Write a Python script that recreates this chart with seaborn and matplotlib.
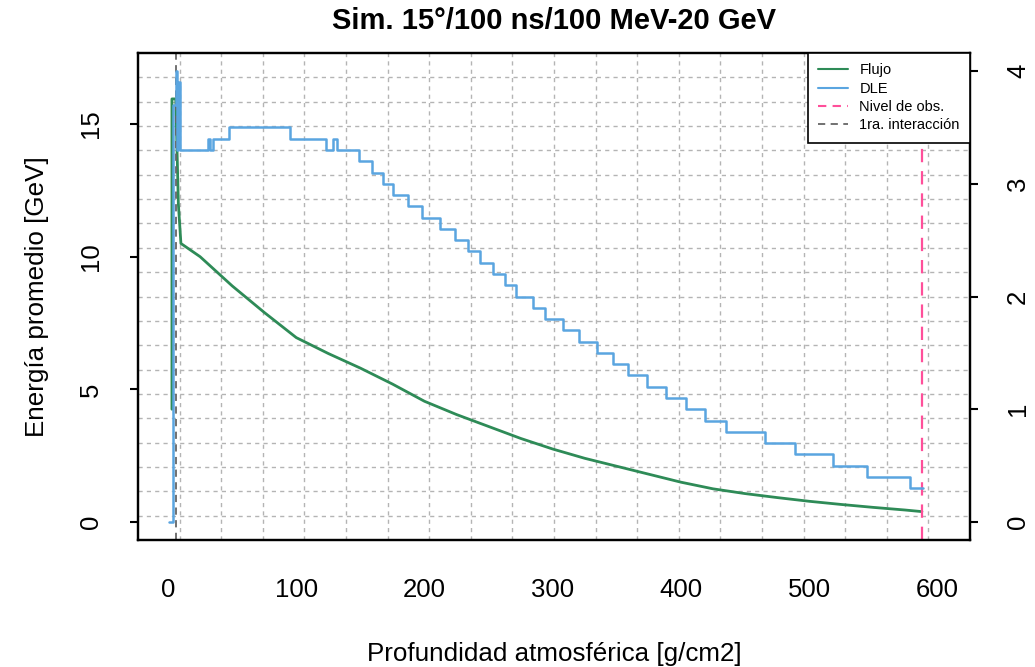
import numpy as np
import pandas as pd
import matplotlib
matplotlib.use("Agg")
import matplotlib.pyplot as plt
from matplotlib.lines import Line2D
import seaborn as sns

sns.set_style("white")
plt.rcParams["font.family"] = ["Liberation Sans", "DejaVu Sans"]
plt.rcParams["text.color"] = "black"
plt.rcParams["axes.labelcolor"] = "black"
plt.rcParams["xtick.color"] = "black"
plt.rcParams["ytick.color"] = "black"

# Flujo (average energy, left axis, GeV)
flujo_x = [3, 3, 6, 8, 10, 25, 50, 75, 100, 125, 150, 175, 200, 225, 250, 275, 300,
           325, 350, 375, 400, 425, 450, 475, 500, 525, 550, 575, 588]
flujo_y = [4.25, 15.95, 15.95, 12.0, 10.5, 10.0, 8.9, 7.9, 6.95, 6.35, 5.8, 5.2, 4.55,
           4.05, 3.6, 3.15, 2.75, 2.4, 2.1, 1.8, 1.5, 1.25, 1.07, 0.92, 0.78, 0.66,
           0.55, 0.45, 0.39]

# DLE (step series, right axis)
dle_x = [1, 4, 6, 7, 8, 9.5, 31, 33, 35, 47.6, 95, 123, 129, 132, 149, 158.7, 168,
         175.7, 187.5, 197.9, 212, 223.9, 234.3, 243.4, 253.8, 262.8, 271.5, 285, 294,
         307.8, 320.8, 334.8, 347.3, 359, 373.3, 388.5, 404, 419, 435, 465.7, 489, 519,
         545.5, 578.8, 589]
dle_y = [0.0, 3.7, 4.0, 3.3, 3.9, 3.3, 3.4, 3.3, 3.4, 3.5, 3.4, 3.3, 3.4, 3.3, 3.2,
         3.1, 3.0, 2.9, 2.8, 2.7, 2.6, 2.5, 2.4, 2.3, 2.2, 2.1, 2.0, 1.9, 1.8, 1.7, 1.6,
         1.5, 1.4, 1.3, 1.2, 1.1, 1.0, 0.9, 0.8, 0.7, 0.6, 0.5, 0.4, 0.3, 0.3]

primera_interaccion = 6.2
nivel_obs = 588

green = "#2e8b57"
blue = "#5aa5e0"
pink = "#ff4f9a"
grey = "#666666"

df_flujo = pd.DataFrame({"x": flujo_x, "y": flujo_y})
df_dle = pd.DataFrame({"x": dle_x, "y": dle_y})

fig = plt.figure(figsize=(10.35, 6.67), dpi=100)
ax = fig.add_axes([0.1333, 0.1904, 0.8039, 0.7301])
ax2 = ax.twinx()

xlim = (-23.5, 625.5)
ylim = (-0.68, 17.68)
ax.set_xlim(*xlim)
ax.set_ylim(*ylim)
ax2.set_ylim(-0.16, 4.16)

# R-style 20x20 dotted grid
for gx in np.linspace(xlim[0], xlim[1], 21)[1:-1]:
    ax.axvline(gx, color="#b4b4b4", lw=1.0, ls=(0, (3, 3)), zorder=0)
for gy in np.linspace(ylim[0], ylim[1], 21)[1:-1]:
    ax.axhline(gy, color="#b4b4b4", lw=1.0, ls=(0, (3, 3)), zorder=0)

sns.lineplot(data=df_flujo, x="x", y="y", ax=ax, color=green, lw=2.0,
             estimator=None, sort=False)
sns.lineplot(data=df_dle, x="x", y="y", ax=ax2, color=blue, lw=1.8,
             estimator=None, sort=False, drawstyle="steps-post")
ax.axvline(primera_interaccion, color=grey, lw=1.3, ls=(0, (4, 3)))
ax.axvline(nivel_obs, color=pink, lw=1.6, ls=(0, (6, 4)))

ax.set_xticks([0, 100, 200, 300, 400, 500, 600])
ax.set_yticks([0, 5, 10, 15])
ax2.set_yticks([0, 1, 2, 3, 4])
ax.tick_params(axis="x", direction="out", length=6, width=1.5, labelsize=18.5, pad=21)
ax.tick_params(axis="y", direction="out", length=6, width=1.5, labelsize=18.5, pad=19,
               left=True)
ax2.tick_params(axis="y", direction="out", length=6, width=1.5, labelsize=18.5, pad=20,
                right=True)
for lab in ax.get_yticklabels():
    lab.set_rotation(90)
    lab.set_va("center")
for lab in ax2.get_yticklabels():
    lab.set_rotation(90)
    lab.set_va("center")

for a in (ax, ax2):
    for s in a.spines.values():
        s.set_color("black")
        s.set_linewidth(1.6)

ax.set_xlabel("Profundidad atmosférica [g/cm2]", fontsize=18.7, labelpad=29)
ax.set_ylabel("Energía promedio [GeV]", fontsize=18.7, labelpad=22)
ax2.set_ylabel("")
ax.set_title("Sim. 15°/100 ns/100 MeV-20 GeV", fontsize=21, fontweight="bold", pad=17)

handles = [
    Line2D([], [], color=green, lw=1.5),
    Line2D([], [], color=blue, lw=1.5),
    Line2D([], [], color=pink, lw=1.5, ls=(0, (4, 3))),
    Line2D([], [], color=grey, lw=1.3, ls=(0, (4, 3))),
]
labels = ["Flujo", "DLE", "Nivel de obs.", "1ra. interacción"]
leg = ax2.legend(handles, labels, loc="upper right", fontsize=10.5, frameon=True,
                 fancybox=False, framealpha=1, borderaxespad=0, handlelength=2.05,
                 borderpad=0.7, labelspacing=0.3, handletextpad=0.8)
leg.get_frame().set_edgecolor("black")
leg.get_frame().set_linewidth(1.2)

fig.savefig("out.png", dpi=100)
